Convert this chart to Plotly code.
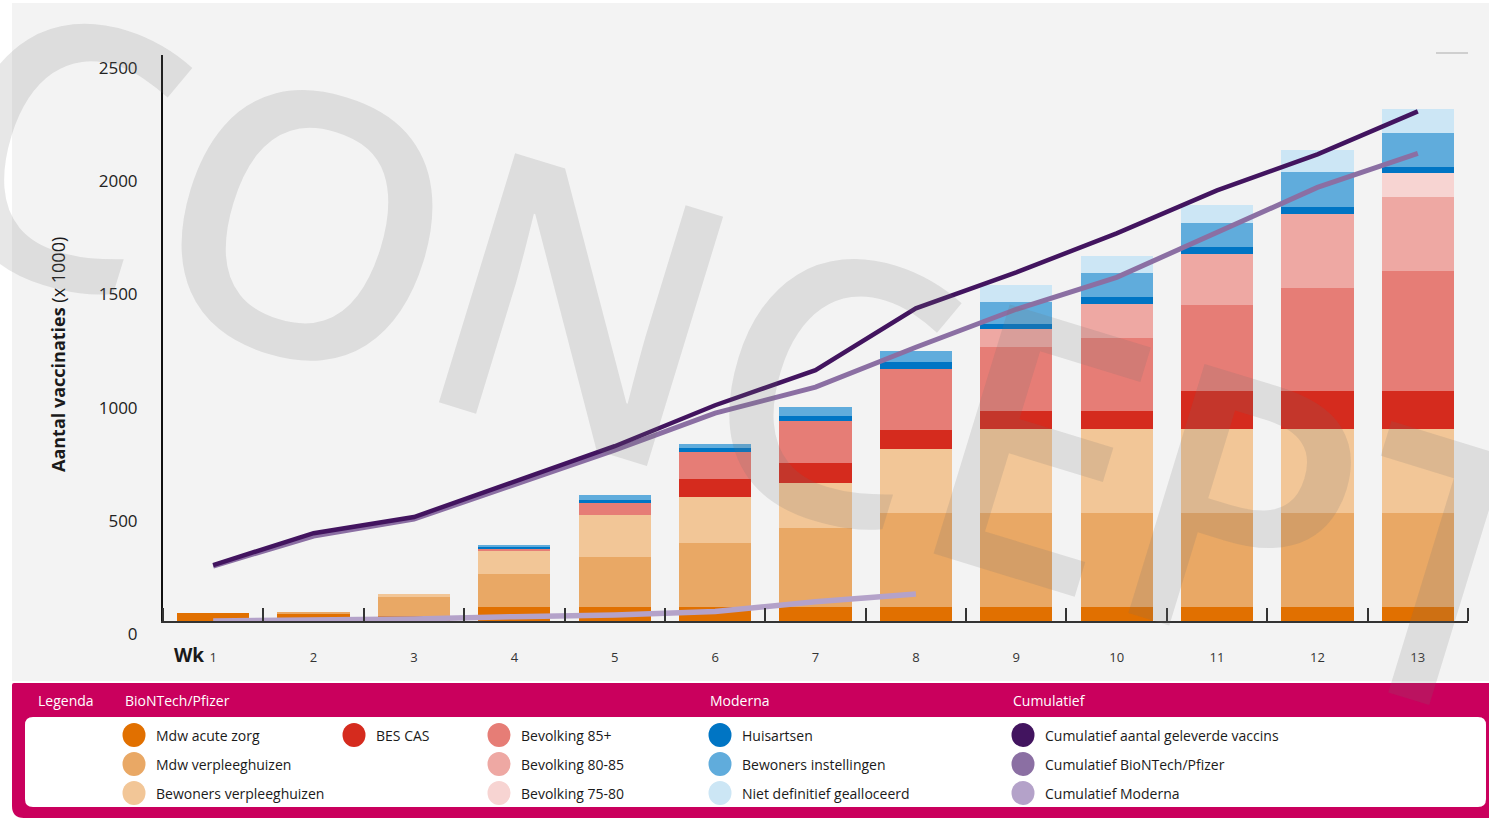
import plotly.graph_objects as go

# ---------------- data ----------------
weeks = list(range(1, 14))
week_labels = [str(w) for w in weeks]

mdw_acute = [34, 34, 20, 62, 62, 62, 62, 62, 62, 62, 62, 62, 62]
mdw_verpl = [0, 7, 88, 147, 219, 284, 350, 416, 417, 417, 417, 417, 417]
bewoners_verpl = [0, 0, 12, 101, 187, 200, 199, 281, 368, 368, 368, 368, 368]
bes_cas = [0, 0, 0, 0, 0, 83, 85, 85, 82, 82, 168, 169, 169]
bev_85 = [0, 0, 0, 12, 53, 118, 188, 268, 282, 322, 381, 455, 531]
bev_80_85 = [0, 0, 0, 0, 0, 0, 0, 0, 77, 147, 224, 327, 328]
bev_75_80 = [0, 0, 0, 0, 0, 0, 0, 0, 0, 0, 0, 0, 102]
huisartsen = [0, 0, 0, 7, 15, 15, 23, 31, 23, 31, 31, 31, 29]
bew_inst = [0, 0, 0, 6, 19, 18, 37, 50, 96, 106, 109, 154, 151]
niet_def = [0, 0, 0, 0, 0, 0, 0, 0, 79, 76, 78, 99, 103]

cum_total = [247, 388, 459, 613, 772, 953, 1108, 1381, 1540, 1712, 1902, 2061, 2251]
cum_biontech = [243, 375, 450, 600, 755, 918, 1033, 1209, 1377, 1518, 1717, 1915, 2065]
moderna_weeks = [1, 2, 3, 4, 5, 6, 7, 8]
cum_moderna = [0, 4, 9, 19, 26, 42, 85, 119]

y_ticks = [0, 500, 1000, 1500, 2000, 2500]

bar_series = [
    ("Mdw acute zorg", mdw_acute, "#e17000"),
    ("Mdw verpleeghuizen", mdw_verpl, "#e9a865"),
    ("Bewoners verpleeghuizen", bewoners_verpl, "#f2c697"),
    ("BES CAS", bes_cas, "#d52b1e"),
    ("Bevolking 85+", bev_85, "#e67d76"),
    ("Bevolking 80-85", bev_80_85, "#eea8a3"),
    ("Bevolking 75-80", bev_75_80, "#f7d4d2"),
    ("Huisartsen", huisartsen, "#0075c4"),
    ("Bewoners instellingen", bew_inst, "#60acdc"),
    ("Niet definitief gealloceerd", niet_def, "#cce6f5"),
]
line_series = [
    ("Cumulatief aantal geleverde vaccins", weeks, cum_total, "#42145f", 4.5),
    ("Cumulatief BioNTech/Pfizer", weeks, cum_biontech, "#8b6fa3", 5),
    ("Cumulatief Moderna", moderna_weeks, cum_moderna, "#b4a2c9", 5.5),
]

# ---------------- layout geometry (pixels) ----------------
W, H = 1489, 818
PL, PR, PT, PB = 163, 1468, 55, 621


def px(x):
    return (x - PL) / (PR - PL)


def py(y):
    return (PB - y) / (PB - PT)


FONT = "Open Sans"

fig = go.Figure()

for name, vals, col in bar_series:
    fig.add_trace(go.Bar(x=weeks, y=vals, name=name, marker=dict(color=col, line=dict(width=0)),
                         showlegend=False))

for name, xs, ys, col, w in reversed(line_series):
    fig.add_trace(go.Scatter(x=xs, y=ys, name=name, mode="lines",
                             line=dict(color=col, width=w), showlegend=False))

shapes = []
# chart background
shapes.append(dict(type="rect", xref="paper", yref="paper", x0=px(12), x1=px(W + 5),
                   y0=py(681), y1=py(3), fillcolor="#f3f3f3", line=dict(width=0), layer="below"))
# small top-right dash
shapes.append(dict(type="line", xref="paper", yref="paper", x0=px(1436), x1=px(1468),
                   y0=py(53), y1=py(53), line=dict(color="#cfcfcf", width=2)))


def rounded_path(x0, y0, x1, y1, r_tl, r_bl, r_tr, r_br):
    def P(x, y):
        return f"{px(x):.6f},{py(y):.6f}"
    s = f"M {P(x0 + r_tl, y0)} L {P(x1 - r_tr, y0)} "
    if r_tr:
        s += f"Q {P(x1, y0)} {P(x1, y0 + r_tr)} "
    s += f"L {P(x1, y1 - r_br)} "
    if r_br:
        s += f"Q {P(x1, y1)} {P(x1 - r_br, y1)} "
    s += f"L {P(x0 + r_bl, y1)} "
    if r_bl:
        s += f"Q {P(x0, y1)} {P(x0, y1 - r_bl)} "
    s += f"L {P(x0, y0 + r_tl)} "
    if r_tl:
        s += f"Q {P(x0, y0)} {P(x0 + r_tl, y0)} "
    s += "Z"
    return s


shapes.append(dict(type="path", xref="paper", yref="paper",
                   path=rounded_path(12, 683, W + 2, 818, 2, 12, 0, 0),
                   fillcolor="#ca005d", line=dict(width=0), layer="above"))
shapes.append(dict(type="path", xref="paper", yref="paper",
                   path=rounded_path(25, 717, 1486, 807, 8, 8, 8, 8),
                   fillcolor="#ffffff", line=dict(width=0), layer="above"))

annotations = []
# header
for txt, x in [("Legenda", 36), ("BioNTech/Pfizer", 123), ("Moderna", 708), ("Cumulatief", 1011)]:
    annotations.append(dict(text=txt, x=px(x), y=py(700), xref="paper", yref="paper",
                            xanchor="left", yanchor="middle", showarrow=False,
                            font=dict(family=FONT, size=14, color="white")))

legend_pos = [
    (134, 735), (134, 764), (134, 793), (354, 735), (499, 735), (499, 764), (499, 793),
    (720, 735), (720, 764), (720, 793),
]
cum_pos = [(1023, 735), (1023, 764), (1023, 793)]
entries = [(n, c) for n, _, c in bar_series] + [(n, c) for n, _, _, c, _ in line_series]
positions = legend_pos + cum_pos
for (name, col), (cx, cy) in zip(entries, positions):
    shapes.append(dict(type="circle", xref="paper", yref="paper",
                       x0=px(cx - 11.5), x1=px(cx + 11.5), y0=py(cy + 12), y1=py(cy - 12),
                       fillcolor=col, line=dict(width=0), layer="above"))
    annotations.append(dict(text=name, x=px(cx + 20), y=py(cy), xref="paper", yref="paper",
                            xanchor="left", yanchor="middle", showarrow=False,
                            font=dict(family=FONT, size=14, color="#1a1a1a")))

# axis title
annotations.append(dict(text="<b>Aantal vaccinaties</b> (x 1000)", x=px(58), y=py(355),
                        xref="paper", yref="paper", textangle=-90, showarrow=False,
                        xanchor="center", yanchor="middle",
                        font=dict(family=FONT, size=18, color="#1a1a1a")))
# Wk label
annotations.append(dict(text="<b>Wk</b>", x=px(189), y=py(655), xref="paper", yref="paper",
                        showarrow=False, xanchor="center", yanchor="middle",
                        font=dict(family=FONT, size=19, color="#1a1a1a")))
# watermark
annotations.append(dict(text="CONCEPT", x=px(750), y=py(350), xref="paper", yref="paper",
                        showarrow=False, textangle=17, xanchor="center", yanchor="middle",
                        font=dict(family=FONT, size=365, weight=600,
                                  color="rgba(110,110,110,0.17)")))

fig.update_layout(
    width=W, height=H,
    margin=dict(l=PL, r=W - PR, t=PT, b=H - PB, pad=0),
    paper_bgcolor="white", plot_bgcolor="rgba(0,0,0,0)",
    barmode="stack", bargap=0.28,
    shapes=shapes, annotations=annotations,
    font=dict(family=FONT),
    xaxis=dict(range=[0.5, 13.5], tickmode="array", tickvals=weeks, ticktext=week_labels,
               ticks="", showgrid=False, zeroline=False, showline=True, linecolor="#333333",
               linewidth=2, ticklabelstandoff=23,
               tickfont=dict(family=FONT, size=13, color="#333333"),
               minor=dict(tickmode="array", tickvals=[w + 0.5 for w in range(0, 14)],
                          ticks="inside", ticklen=13, tickwidth=1.5, tickcolor="#333333",
                          showgrid=False)),
    yaxis=dict(range=[0, 2500], tickmode="array", tickvals=y_ticks,
               ticktext=[str(v) for v in y_ticks], ticks="", showgrid=False, zeroline=False,
               showline=True, linecolor="#111111", linewidth=2, ticklabelshift=13,
               ticklabelstandoff=20, tickfont=dict(family=FONT, size=17, color="#222222")),
)

fig.write_html("out.html", config={"displayModeBar": False},
               post_script="document.body.style.margin='0';document.body.style.overflow='hidden';")
